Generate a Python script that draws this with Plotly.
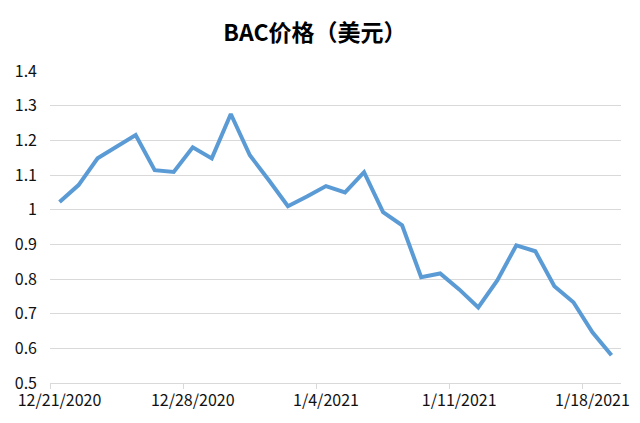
import plotly.graph_objects as go
import pandas as pd

dates = pd.date_range("2020-12-21", "2021-01-19", freq="D")
prices = [1.022, 1.071, 1.148, 1.18, 1.215, 1.114, 1.109, 1.18, 1.148, 1.276,
          1.157, 1.085, 1.01, 1.038, 1.068, 1.05, 1.108, 0.993, 0.955, 0.805,
          0.816, 0.77, 0.718, 0.796, 0.897, 0.88, 0.779, 0.733, 0.646, 0.58]
tick_dates = ["2020-12-21", "2020-12-28", "2021-01-04", "2021-01-11", "2021-01-18"]
tick_labels = ["12/21/2020", "12/28/2020", "1/4/2021", "1/11/2021", "1/18/2021"]
y_ticks = [0.5, 0.6, 0.7, 0.8, 0.9, 1.0, 1.1, 1.2, 1.3, 1.4]
y_labels = ["0.5", "0.6", "0.7", "0.8", "0.9", "1", "1.1", "1.2", "1.3", "1.4"]

fig = go.Figure()
fig.add_trace(go.Scatter(x=dates, y=prices, mode="lines",
                         line=dict(color="#5B9BD5", width=4, shape="linear"),
                         hoverinfo="x+y"))

font_fam = "Noto Sans CJK SC, Noto Sans, sans-serif"
fig.update_layout(
    width=640, height=423,
    margin=dict(l=50, r=19, t=71, b=40),
    paper_bgcolor="white", plot_bgcolor="white",
    showlegend=False,
    title=dict(text="<b>BAC价格（美元）</b>", x=0.492, xanchor="center",
               y=0.922, yanchor="middle",
               font=dict(family=font_fam, size=23, color="#000000")),
    xaxis=dict(
        type="date", automargin=False,
        range=["2020-12-20 12:00", "2021-01-19 12:00"],
        tickvals=tick_dates, ticktext=tick_labels,
        ticks="", showgrid=False,
        showline=True, linecolor="#D9D9D9", linewidth=1,
        ticklabelstandoff=3,
        tickfont=dict(family=font_fam, size=16, color="#111111"),
        minor=dict(tick0="2020-12-20 12:00", dtick=7 * 86400000,
                   ticks="outside", ticklen=5, tickcolor="#D9D9D9", showgrid=False),
        fixedrange=True,
    ),
    yaxis=dict(
        range=[0.5, 1.4], automargin=False,
        tickvals=y_ticks, ticktext=y_labels,
        showgrid=True, gridcolor="#D9D9D9", gridwidth=1,
        zeroline=False, showline=False, ticks="",
        ticklabelstandoff=12,
        tickfont=dict(family=font_fam, size=16, color="#111111"),
        fixedrange=True,
    ),
)

fig.write_html("out.html", config={"displayModeBar": False},
               post_script="document.body.style.margin='0';document.body.style.overflow='hidden';")
